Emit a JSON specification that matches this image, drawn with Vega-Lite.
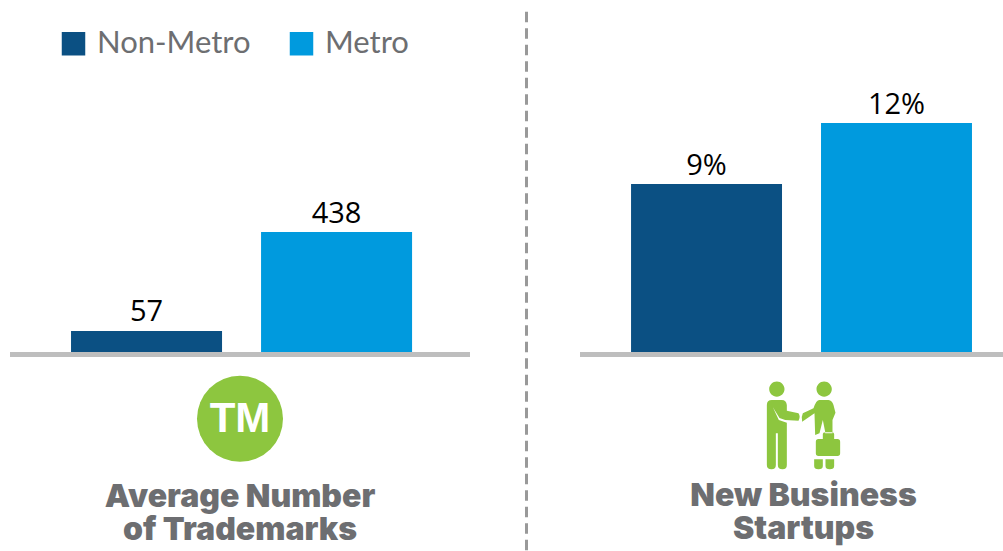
{
"$schema":"https://vega.github.io/schema/vega-lite/v6.json",
"padding":{"left":7,"top":0,"right":0,"bottom":0},
"background":"white",
"spacing":53,
"bounds":"flush",
"config":{"view":{"stroke":null},"title":{"font":"Inter","fontWeight":900,"fontSize":32,"color":"#6d6e71","lineHeight":33,"anchor":"middle","orient":"bottom"}},
"resolve":{"scale":{"color":"independent"},"legend":{"color":"independent"}},
"hconcat":[
{"width":460,"height":352,
"title":{"text":["Average Number","of Trademarks"],"offset":20},
"data":{"values":[{"group":"Non-Metro","value":57,"label":"57"},{"group":"Metro","value":438,"label":"438"}]},
"layer":[
{"mark":{"type":"rule","color":"#bebebe","strokeWidth":5,"yOffset":2.5},"encoding":{"y":{"datum":-24,"type":"quantitative","scale":{"domain":[-24,1331.2]},"axis":null}}},
{"mark":{"type":"bar"},"encoding":{
"x":{"field":"group","type":"nominal","sort":["Non-Metro","Metro"],"axis":null,"scale":{"paddingInner":0.2053,"paddingOuter":0.313,"align":0.513}},
"y":{"field":"value","type":"quantitative","scale":{"domain":[-24,1331.2]},"axis":null},
"y2":{"datum":-24},
"color":{"field":"group","type":"nominal","sort":["Non-Metro","Metro"],"scale":{"domain":["Non-Metro","Metro"],"range":["#0b5083","#009ade"]},
"legend":{"orient":"none","legendX":48,"legendY":28,"title":null,"direction":"horizontal","columns":2,"symbolType":"square","symbolSize":552,"symbolStrokeWidth":0,"labelFont":"Lato","labelFontWeight":400,"labelFontSize":31,"labelColor":"#6d6e71","labelOffset":8,"columnPadding":35,"labelLimit":300}}}},
{"mark":{"type":"text","font":"Open Sans","fontSize":29,"color":"#000000","dy":-9.5,"baseline":"alphabetic"},"encoding":{
"x":{"field":"group","type":"nominal","sort":["Non-Metro","Metro"]},
"y":{"field":"value","type":"quantitative","scale":{"domain":[-24,1331.2]}},
"text":{"field":"label"}}},
{"data":{"values":[{"icon":"trademark"}]},"mark":{"type":"point","shape":"circle","filled":true,"opacity":1,"color":"#8dc63f","size":7396},"encoding":{"y":{"datum":-281,"type":"quantitative","scale":{"domain":[-24,1331.2]}}}},
{"data":{"values":[{"icon":"TM"}]},"mark":{"type":"text","font":"Liberation Sans","fontWeight":"bold","fontSize":42,"color":"#ffffff","baseline":"middle"},"encoding":{"y":{"datum":-281,"type":"quantitative","scale":{"domain":[-24,1331.2]}},"text":{"field":"icon"}}}
]},
{"width":4,"height":551,
"data":{"values":[{"divider":1}]},
"mark":{"type":"rule","color":"#999999","strokeWidth":3,"strokeDash":[10.5,6]},
"encoding":{"x":{"datum":0.875,"type":"quantitative","scale":{"domain":[0,1]},"axis":null},"y":{"datum":11.7,"type":"quantitative","scale":{"domain":[551,0]},"axis":null},"y2":{"datum":551}}},
{"width":423,"height":352,
"title":{"text":["New Business","Startups"],"offset":12,"dx":12},
"data":{"values":[{"group":"Non-Metro","value":9,"label":"9%"},{"group":"Metro","value":12,"label":"12%"}]},
"layer":[
{"mark":{"type":"rule","color":"#bebebe","strokeWidth":5,"yOffset":2.5},"encoding":{"y":{"datum":0.74,"type":"quantitative","scale":{"domain":[0.74,18.05]},"axis":null}}},
{"mark":{"type":"bar"},"encoding":{
"x":{"field":"group","type":"nominal","sort":["Non-Metro","Metro"],"axis":null,"scale":{"paddingInner":0.2053,"paddingOuter":0.216,"align":0.622}},
"y":{"field":"value","type":"quantitative","scale":{"domain":[0.74,18.05]},"axis":null},
"y2":{"datum":0.74},
"color":{"field":"group","type":"nominal","sort":["Non-Metro","Metro"],"scale":{"domain":["Non-Metro","Metro"],"range":["#0b5083","#009ade"]},"legend":null}}},
{"mark":{"type":"text","font":"Open Sans","fontSize":29,"color":"#000000","dy":-9.5,"baseline":"alphabetic"},"encoding":{
"x":{"field":"group","type":"nominal","sort":["Non-Metro","Metro"]},
"y":{"field":"value","type":"quantitative","scale":{"domain":[0.74,18.05]}},
"text":{"field":"label"}}},
{"data":{"values":[{"icon":"handshake"}]},"mark":{"type":"point","filled":true,"opacity":1,"color":"#8dc63f","size":0.444,"xOffset":12,
"shape":"M-103 -111 A23 23 0 1 1 -57 -111 A23 23 0 1 1 -103 -111 Z M-110 -63 Q-110 -78 -95 -78 H-65 Q-52 -78 -50 -63 L-50 -46 L-15 -38 Q-8 -28 -15 -16 L-55 -18 L-72 -24 L-92 -56 L-74 -18 L-50 -10 V117 Q-50 130 -63 130 Q-77 130 -77 117 V22 H-83 V117 Q-83 130 -96 130 Q-110 130 -110 117 Z M39 -111 A23 23 0 1 1 85 -111 A23 23 0 1 1 39 -111 Z M30 -53 L-2 -38 Q-8 -26 -4 -13 L33 -38 L35 27 L48 22 L58 -18 L65 17 V22 H87 V-18 L96 -40 L90 -63 Q86 -76 75 -78 H48 Q38 -78 30 -53 Z M37 47 Q37 39 45 39 H58 V24 Q58 19 65 19 H85 Q92 19 92 24 V39 H102 Q110 39 110 47 V82 Q110 90 102 90 H45 Q37 90 37 82 Z M32 100 H58 V120 Q58 130 45 130 Q32 130 32 120 Z M66 100 H92 V120 Q92 130 79 130 Q66 130 66 120 Z"},
"encoding":{"y":{"datum":-2.9,"type":"quantitative","scale":{"domain":[0.74,18.05]}}}}
]}
]}
